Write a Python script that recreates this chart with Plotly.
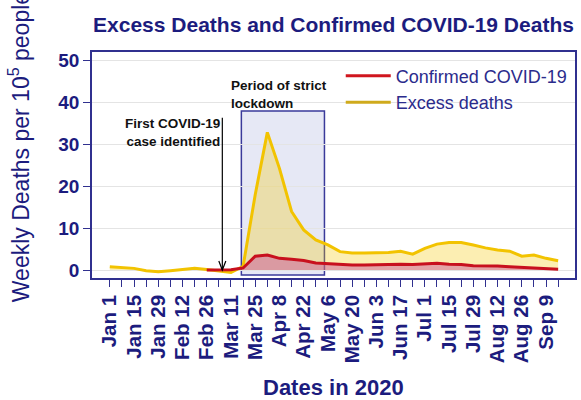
import plotly.graph_objects as go

# ---------------- data ----------------
week_dates = [
    "2020-01-01", "2020-01-08", "2020-01-15", "2020-01-22", "2020-01-29",
    "2020-02-05", "2020-02-12", "2020-02-19", "2020-02-26", "2020-03-04",
    "2020-03-11", "2020-03-18", "2020-03-25", "2020-04-01", "2020-04-08",
    "2020-04-15", "2020-04-22", "2020-04-29", "2020-05-06", "2020-05-13",
    "2020-05-20", "2020-05-27", "2020-06-03", "2020-06-10", "2020-06-17",
    "2020-06-24", "2020-07-01", "2020-07-08", "2020-07-15", "2020-07-22",
    "2020-07-29", "2020-08-05", "2020-08-12", "2020-08-19", "2020-08-26",
    "2020-09-02", "2020-09-09", "2020-09-16",
]
excess_deaths = [
    0.8, 0.65, 0.4, -0.15, -0.4, -0.15, 0.15, 0.4, 0.15, -0.2,
    -0.6, 0.9, 18.0, 32.9, 24.3, 14.0, 9.6, 7.2, 6.0, 4.4,
    4.1, 4.1, 4.1, 4.2, 4.5, 3.8, 5.2, 6.2, 6.6, 6.6,
    6.0, 5.3, 4.8, 4.5, 3.3, 3.6, 2.8, 2.2,
]
confirmed_dates = week_dates[8:]
confirmed_deaths = [
    0.0, 0.0, 0.05, 0.5, 3.3, 3.6, 2.8, 2.6, 2.3, 1.7,
    1.5, 1.4, 1.2, 1.2, 1.3, 1.35, 1.4, 1.35, 1.4, 1.6,
    1.4, 1.35, 1.0, 1.0, 0.95, 0.8, 0.65, 0.5, 0.35, 0.2,
]
tick_dates = week_dates[0:37:2]
tick_labels = [
    "Jan 1", "Jan 15", "Jan 29", "Feb 12", "Feb 26", "Mar 11", "Mar 25",
    "Apr 8", "Apr 22", "May 6", "May 20", "Jun 3", "Jun 17", "Jul 1",
    "Jul 15", "Jul 29", "Aug 12", "Aug 26", "Sep 9",
]
y_ticks = [0, 10, 20, 30, 40, 50]

lockdown_period = ["2020-03-17", "2020-05-04"]
lockdown_y = [-1.2, 38.0]
first_case_date = "2020-03-06"
first_case_arrow_top = 36.4

x_range = ["2019-12-21 17:00", "2020-09-25 18:00"]
y_range = [-1.9, 52.1]

NAVY = "#1c1c7e"
AXIS = "#30308f"
FONT = "Liberation Sans, Arial, sans-serif"
YELLOW = "#f2c300"
RED = "#c8101e"

fig = go.Figure()

fig.add_trace(go.Scatter(
    x=week_dates, y=excess_deaths, name="Excess deaths", mode="lines",
    line=dict(color=YELLOW, width=3), showlegend=False,
    fill="tozeroy", fillcolor="rgba(245,200,0,0.30)",
))
fig.add_trace(go.Scatter(
    x=confirmed_dates, y=confirmed_deaths, name="Confirmed COVID-19", mode="lines",
    line=dict(color=RED, width=3), showlegend=False,
    fill="tozeroy", fillcolor="rgba(200,70,150,0.45)",
))
# legend entries (line only, no fill swatch)
fig.add_trace(go.Scatter(x=[None], y=[None], mode="lines", name="Confirmed COVID-19",
                         line=dict(color="#d0161e", width=3)))
fig.add_trace(go.Scatter(x=[None], y=[None], mode="lines", name="Excess deaths",
                         line=dict(color="#cfaa1c", width=3)))

# lockdown box
fig.add_shape(type="rect", xref="x", yref="y",
              x0=lockdown_period[0], x1=lockdown_period[1],
              y0=lockdown_y[0], y1=lockdown_y[1],
              fillcolor="rgba(200,204,232,0.45)",
              line=dict(color="#3a3a9a", width=1.5), layer="below")

# arrow for first case
fig.add_shape(type="line", xref="x", yref="y",
              x0=first_case_date, x1=first_case_date,
              y0=first_case_arrow_top, y1=0,
              line=dict(color="black", width=1.2))
fig.add_shape(type="path", xref="x", yref="y",
              xsizemode="pixel", ysizemode="pixel",
              xanchor=first_case_date, yanchor=0,
              path="M -3.5 9 L 0 0 L 3.5 9",
              line=dict(color="black", width=1.2))

fig.add_annotation(text="<b>First COVID-19<br>case identified</b>",
                   x=first_case_date, y=32.9, xref="x", yref="y",
                   xanchor="right", yanchor="middle", align="right",
                   xshift=0, showarrow=False,
                   font=dict(family=FONT, size=13.5, color="#111111"))
fig.add_annotation(text="<b>Period of strict<br>lockdown</b>",
                   x=lockdown_period[0], y=41.9, xref="x", yref="y",
                   xanchor="left", yanchor="middle", align="left",
                   xshift=-12, showarrow=False,
                   font=dict(family=FONT, size=13.5, color="#111111"))

# axis titles as annotations
fig.add_annotation(text="Weekly Deaths per 10<sup>5</sup> people",
                   x=-0.152, y=0.577, xref="paper", yref="paper",
                   xanchor="center", yanchor="middle", textangle=-90,
                   showarrow=False,
                   font=dict(family=FONT, size=23, color=NAVY))
fig.add_annotation(text="<b>Dates in 2020</b>",
                   x=0.5, y=-0.484, xref="paper", yref="paper",
                   xanchor="center", yanchor="middle", showarrow=False,
                   font=dict(family=FONT, size=22, color=NAVY))

fig.update_layout(
    width=581, height=400,
    margin=dict(l=92, r=4, t=52, b=122),
    paper_bgcolor="white", plot_bgcolor="white",
    title=dict(text="<b>Excess Deaths and Confirmed COVID-19 Deaths</b>",
               x=0.5, xref="paper", xanchor="center",
               y=1 - 25 / 400, yref="container", yanchor="middle",
               font=dict(family=FONT, size=21, color=NAVY)),
    showlegend=True,
    legend=dict(x=0.515, y=0.975, xanchor="left", yanchor="top",
                bgcolor="rgba(0,0,0,0)", itemwidth=45,
                font=dict(family=FONT, size=18, color="#2b2b8c")),
)

fig.update_xaxes(
    type="date", range=x_range,
    tickmode="array", tickvals=tick_dates,
    ticktext=["<b>%s</b>" % t for t in tick_labels],
    tickangle=-90, ticks="outside", ticklen=7, tickwidth=1.2, tickcolor=AXIS,
    tickfont=dict(family=FONT, size=20.5, color=NAVY),
    minor=dict(tickmode="array", tickvals=week_dates, ticks="outside",
               ticklen=7, tickwidth=1.2, tickcolor=AXIS, showgrid=False),
    showgrid=False, zeroline=False,
    showline=True, linecolor=AXIS, linewidth=1.5, mirror=True,
)
fig.update_yaxes(
    range=y_range, tickmode="array", tickvals=y_ticks,
    ticktext=["<b>%d</b>" % v for v in y_ticks],
    ticks="outside", ticklen=7, tickwidth=1.2, tickcolor=AXIS,
    tickfont=dict(family=FONT, size=19, color=NAVY),
    showgrid=True, gridcolor="#e4e4e4", gridwidth=1, zeroline=False,
    showline=True, linecolor=AXIS, linewidth=1.5, mirror=True,
)

fig.write_html("out.html",
               config={"displayModeBar": False},
               post_script="document.body.style.margin='0px';")
